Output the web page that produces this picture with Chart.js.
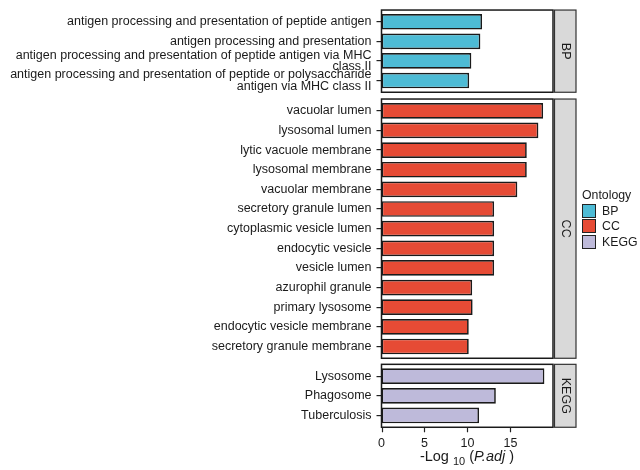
<!DOCTYPE html>
<html>
<head>
<meta charset="utf-8">
<title>Enrichment by ontology</title>
<script src="https://cdn.jsdelivr.net/npm/chart.js@4.4.1/dist/chart.umd.min.js"></script>
<style>
    body { margin: 0; background: #fff; font-family: 'Liberation Sans', Arial, sans-serif; color: #1a1a1a; }
    #wrap { position: relative; width: 640px; height: 470px; overflow: hidden; }
    .panel { position: absolute; left: 0; width: 640px; }
    #legend { position: absolute; left: 582px; top: 187px; font-size: 12.3px; }
    #legend .title { height: 16px; line-height: 16px; }
    #legend .row { display: flex; align-items: center; height: 15.5px; }
    #legend .key { width: 14px; height: 14px; box-sizing: border-box; border: 1.3px solid #222; margin-right: 6px; }
    #xtitle { position: absolute; left: 381px; width: 172px; top: 448px; text-align: center; font-size: 14.5px; line-height: 17px; white-space: nowrap; }
    #xtitle sub { font-size: 11px; }
</style>
</head>
<body>
<div id="wrap">
    <div class="panel" style="top:0;height:96px"><canvas id="bp-chart"></canvas></div>
    <div class="panel" style="top:96px;height:264px"><canvas id="cc-chart"></canvas></div>
    <div class="panel" style="top:360px;height:110px"><canvas id="kegg-chart"></canvas></div>
    <div id="legend"></div>
    <div id="xtitle">-Log <sub>10</sub> (<i>P.adj</i> )</div>
</div>
<script>
const ontologies = ['BP', 'CC', 'KEGG'];
const ontologyColors = ['#4DBBD5', '#E64B35', '#BEBADA'];

const bpLabels = [
    'antigen processing and presentation of peptide antigen',
    'antigen processing and presentation',
    ['antigen processing and presentation of peptide antigen via MHC', 'class II'],
    ['antigen processing and presentation of peptide or polysaccharide', 'antigen via MHC class II']
];
const bpValues = [11.7, 11.5, 10.45, 10.2];

const ccLabels = [
    'vacuolar lumen',
    'lysosomal lumen',
    'lytic vacuole membrane',
    'lysosomal membrane',
    'vacuolar membrane',
    'secretory granule lumen',
    'cytoplasmic vesicle lumen',
    'endocytic vesicle',
    'vesicle lumen',
    'azurophil granule',
    'primary lysosome',
    'endocytic vesicle membrane',
    'secretory granule membrane'
];
const ccValues = [18.8, 18.25, 16.9, 16.9, 15.8, 13.1, 13.1, 13.1, 13.1, 10.55, 10.6, 10.15, 10.15];

const keggLabels = ['Lysosome', 'Phagosome', 'Tuberculosis'];
const keggValues = [18.95, 13.3, 11.35];

const xTicks = [0, 5, 10, 15];
const xMax = 19.95;

const FONT = "'Liberation Sans', Arial, sans-serif";
const INK = '#1a1a1a';

// panel border, grey strip on the right and (for the bottom panel) x tick marks
const facetPlugin = {
    id: 'facet',
    afterDraw(chart, args, opts) {
        const ctx = chart.ctx;
        const a = chart.chartArea;
        const n = chart.data.labels.length;
        const u = (a.bottom - a.top) / n;
        const top = a.top - 0.1 * u;
        const bottom = a.bottom + 0.1 * u;

        ctx.save();
        ctx.lineWidth = 1.5;
        ctx.strokeStyle = '#1a1a1a';
        ctx.strokeRect(a.left, top, a.right - a.left, bottom - top);

        const sx = a.right + 1.5;
        const sw = 21.5;
        ctx.fillStyle = '#d9d9d9';
        ctx.fillRect(sx, top, sw, bottom - top);
        ctx.lineWidth = 1.2;
        ctx.strokeStyle = '#333';
        ctx.strokeRect(sx, top, sw, bottom - top);

        ctx.translate(sx + sw / 2, (top + bottom) / 2);
        ctx.rotate(Math.PI / 2);
        ctx.fillStyle = INK;
        ctx.font = '12.5px ' + FONT;
        ctx.textAlign = 'center';
        ctx.textBaseline = 'middle';
        ctx.fillText(opts.strip, 0, 0);
        ctx.restore();

        if (opts.xTicks) {
            const xs = chart.scales.x;
            ctx.save();
            ctx.strokeStyle = '#222';
            ctx.lineWidth = 1.2;
            xs.ticks.forEach(t => {
                const x = Math.round(xs.getPixelForValue(t.value)) + 0.5;
                ctx.beginPath();
                ctx.moveTo(x, bottom);
                ctx.lineTo(x, bottom + 5);
                ctx.stroke();
            });
            ctx.restore();
        }
    }
};

function makeChart(id, labels, values, color, strip, padTop, padBottom, showX) {
    return new Chart(document.getElementById(id), {
        type: 'bar',
        data: {
            labels: labels,
            datasets: [{
                label: strip,
                data: values,
                backgroundColor: color,
                borderColor: '#1a1a1a',
                borderWidth: 1.7,
                borderSkipped: false,
                barPercentage: 0.8,
                categoryPercentage: 1
            }]
        },
        options: {
            indexAxis: 'y',
            responsive: true,
            maintainAspectRatio: false,
            animation: false,
            layout: { padding: { top: padTop, bottom: padBottom, left: 0, right: 87 } },
            plugins: {
                legend: { display: false },
                tooltip: { enabled: false },
                facet: { strip: strip, xTicks: showX }
            },
            scales: {
                x: {
                    display: showX,
                    min: 0,
                    max: xMax,
                    grid: { display: false, drawTicks: false },
                    border: { display: false },
                    afterBuildTicks: s => { s.ticks = xTicks.map(v => ({ value: v })); },
                    afterFit: s => {
                        s.height = showX ? 44.7 : 0;
                        s.paddingLeft = 0;
                        s.paddingRight = 0;
                    },
                    ticks: {
                        padding: 11,
                        color: INK,
                        font: { family: FONT, size: 12.5 }
                    }
                },
                y: {
                    grid: {
                        display: true,
                        offset: false,
                        drawOnChartArea: false,
                        drawTicks: true,
                        tickLength: 5,
                        color: '#222',
                        lineWidth: 1.2
                    },
                    border: { display: false },
                    afterFit: s => {
                        s.width = 381.5;
                        s.paddingTop = 0;
                        s.paddingBottom = 0;
                    },
                    ticks: {
                        autoSkip: false,
                        padding: 5,
                        color: INK,
                        font: { family: FONT, size: 12.5, lineHeight: 0.92 }
                    }
                }
            }
        },
        plugins: [facetPlugin]
    });
}

makeChart('bp-chart', bpLabels, bpValues, ontologyColors[0], ontologies[0], 12, 5.7, false);
makeChart('cc-chart', ccLabels, ccValues, ontologyColors[1], ontologies[1], 5, 3.7, false);
makeChart('kegg-chart', keggLabels, keggValues, ontologyColors[2], ontologies[2], 6.3, 0, true);

// legend
const legend = document.getElementById('legend');
legend.innerHTML = '<div class="title">Ontology</div>';
ontologies.forEach((name, i) => {
    const row = document.createElement('div');
    row.className = 'row';
    row.innerHTML = '<span class="key" style="background:' + ontologyColors[i] + '"></span><span>' + name + '</span>';
    legend.appendChild(row);
});
</script>
</body>
</html>
